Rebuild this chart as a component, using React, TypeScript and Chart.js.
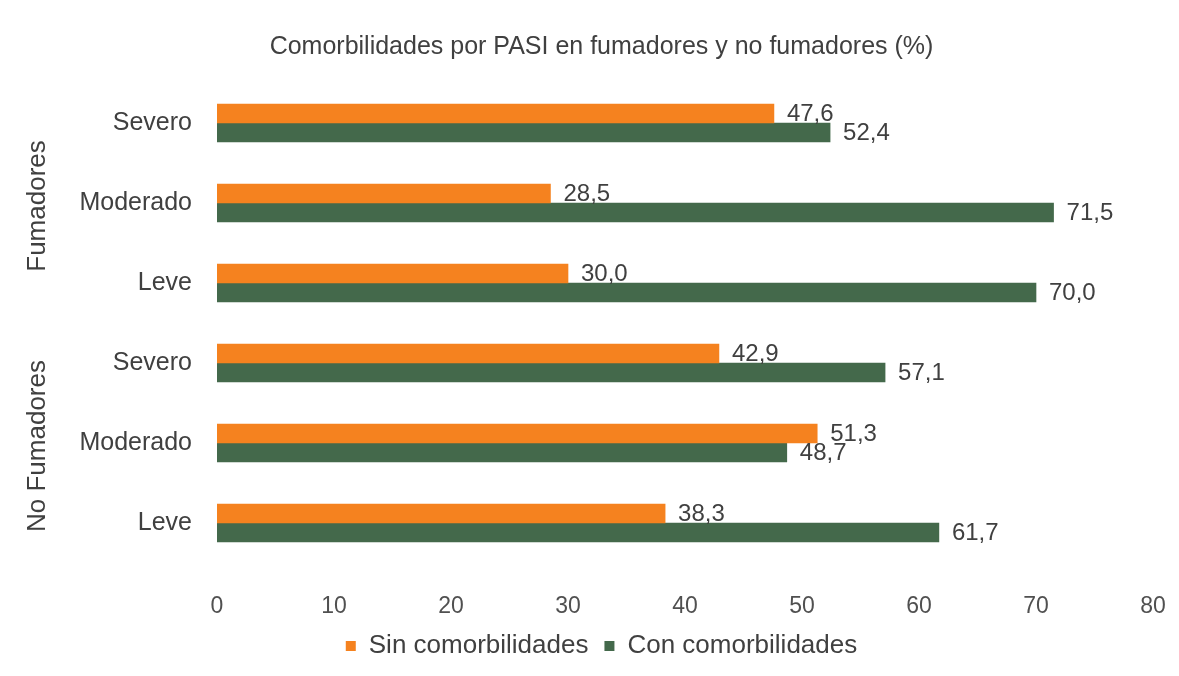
import React, { useEffect, useRef } from "react";
import { Chart, registerables } from "chart.js";

Chart.register(...registerables);

const title = "Comorbilidades por PASI en fumadores y no fumadores (%)";
const categories = ["Severo", "Moderado", "Leve", "Severo", "Moderado", "Leve"];
const groups = ["Fumadores", "No Fumadores"];
const groupSize = 3;
const seriesNames = ["Sin comorbilidades", "Con comorbilidades"];
const sinComorbilidades = [47.6, 28.5, 30.0, 42.9, 51.3, 38.3];
const conComorbilidades = [52.4, 71.5, 70.0, 57.1, 48.7, 61.7];
const xMin = 0;
const xMax = 80;
const xStep = 10;

const ORANGE = "#F5821F";
const GREEN = "#44694B";
const TEXT = "#404040";
const TICK_TEXT = "#505050";
const FONT = "'Liberation Sans', Arial, sans-serif";

const fmt = (v: number) => v.toFixed(1).replace(".", ",");

const dataLabelPlugin = {
  id: "dataLabels",
  afterDatasetsDraw(chart: any) {
    const ctx = chart.ctx;
    ctx.save();
    ctx.font = `24px ${FONT}`;
    ctx.fillStyle = TEXT;
    ctx.textAlign = "left";
    ctx.textBaseline = "middle";
    chart.data.datasets.forEach((ds: any, di: number) => {
      const meta = chart.getDatasetMeta(di);
      meta.data.forEach((bar: any, i: number) => {
        ctx.fillText(fmt(ds.data[i]), bar.x + 13, bar.y + 1);
      });
    });
    ctx.restore();
  },
};

const groupLabelPlugin = {
  id: "groupLabels",
  afterDraw(chart: any) {
    const ctx = chart.ctx;
    const y = chart.scales.y;
    ctx.save();
    ctx.font = `26px ${FONT}`;
    ctx.fillStyle = TEXT;
    ctx.textAlign = "center";
    ctx.textBaseline = "middle";
    groups.forEach((g, gi) => {
      const first = y.getPixelForValue(gi * groupSize);
      const last = y.getPixelForValue(gi * groupSize + groupSize - 1);
      const cy = (first + last) / 2 + 3;
      ctx.save();
      ctx.translate(38, cy);
      ctx.rotate(-Math.PI / 2);
      ctx.fillText(g, 0, 0);
      ctx.restore();
    });
    ctx.restore();
  },
};

export default function App() {
  const ref = useRef<HTMLCanvasElement | null>(null);

  useEffect(() => {
    document.body.style.margin = "0";
    const canvas = ref.current;
    if (!canvas) return;
    const chart = new Chart(canvas, {
      type: "bar",
      data: {
        labels: categories,
        datasets: [
          {
            label: seriesNames[0],
            data: sinComorbilidades,
            backgroundColor: ORANGE,
            borderWidth: 0,
            barThickness: 19,
          },
          {
            label: seriesNames[1],
            data: conComorbilidades,
            backgroundColor: GREEN,
            borderWidth: 0,
            barThickness: 19,
          },
        ],
      },
      options: {
        indexAxis: "y",
        responsive: false,
        animation: false,
        devicePixelRatio: 1,
        layout: { padding: { left: 50, right: 26, top: 0, bottom: 7 } },
        scales: {
          x: {
            min: xMin,
            max: xMax,
            afterFit: (scale: any) => {
              scale.height = 54;
            },
            grid: { display: false, drawTicks: true, tickLength: 17 },
            border: { display: false },
            ticks: {
              stepSize: xStep,
              color: TICK_TEXT,
              font: { size: 23, family: FONT },
              padding: 13,
              maxRotation: 0,
              autoSkip: false,
            },
          },
          y: {
            afterFit: (scale: any) => {
              scale.width = 167;
            },
            grid: { display: false, drawTicks: false },
            border: { display: false },
            ticks: {
              color: TEXT,
              font: { size: 25, family: FONT },
              padding: 25,
            },
          },
        },
        plugins: {
          title: {
            display: true,
            text: title,
            color: TEXT,
            font: { size: 25, family: FONT, weight: "normal" },
            padding: { top: 32, bottom: 21 },
          },
          legend: {
            position: "bottom",
            labels: {
              color: TEXT,
              font: { size: 26, family: FONT },
              boxWidth: 10,
              boxHeight: 10,
              padding: 16,
            },
          },
          tooltip: { enabled: false },
        },
      },
      plugins: [dataLabelPlugin, groupLabelPlugin],
    } as any);
    return () => chart.destroy();
  }, []);

  return (
    <div style={{ width: 1179, height: 676, background: "#fff" }}>
      <canvas ref={ref} width={1179} height={676} />
    </div>
  );
}
